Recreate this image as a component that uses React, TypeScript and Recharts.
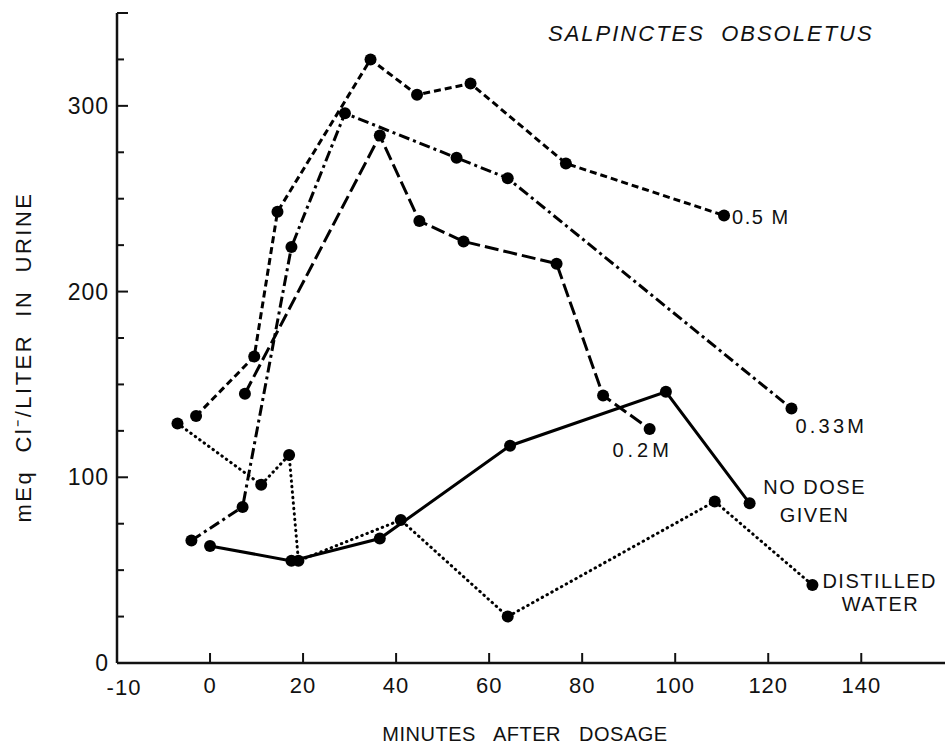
import { LineChart, Line, XAxis, YAxis } from 'recharts';

// minutes after dosage vs mEq Cl-/liter in urine
const salt05Minutes = [-3, 9.5, 14.5, 34.5, 44.5, 56, 76.5, 110.5];
const salt05Cl = [133, 165, 243, 325, 306, 312, 269, 241];

const salt033Minutes = [-4, 7, 17.5, 29, 53, 64, 125];
const salt033Cl = [66, 84, 224, 296, 272, 261, 137];

const salt02Minutes = [7.5, 36.5, 45, 54.5, 74.5, 84.5, 94.5];
const salt02Cl = [145, 284, 238, 227, 215, 144, 126];

const noDoseMinutes = [0, 17.5, 36.5, 64.5, 98, 116];
const noDoseCl = [63, 55, 67, 117, 146, 86];

const waterMinutes = [-7, 11, 17, 19, 41, 64, 108.5, 129.5];
const waterCl = [129, 96, 112, 55, 77, 25, 87, 42];

// the original figure labels its corner "-10"
const xTicks = [-20, 0, 20, 40, 60, 80, 100, 120, 140];
const xTickLabels = ['-10', '0', '20', '40', '60', '80', '100', '120', '140'];
const yTicks = [0, 25, 50, 75, 100, 125, 150, 175, 200, 225, 250, 275, 300, 325, 350];
const yLabelled = [0, 100, 200, 300];

const toPoints = (xs: number[], ys: number[]) => xs.map((x, i) => ({ x, y: ys[i] }));

const FONT = '"Liberation Sans", Arial, sans-serif';

type LabelLine = { text: string; dx: number; dy: number; anchor?: 'start' | 'middle' | 'end'; ls?: number };

const endLabel = (lines: LabelLine[], last: number) => (props: any) => {
  if (props.index !== last) return <g key={props.index} />;
  return (
    <g key={props.index}>
      {lines.map((l, i) => (
        <text
          key={i}
          x={props.x + l.dx}
          y={props.y + l.dy}
          textAnchor={l.anchor || 'start'}
          dominantBaseline="central"
          fontFamily={FONT}
          fontSize={20}
          letterSpacing={l.ls ?? 1.5}
          fill="#111"
        >
          {l.text}
        </text>
      ))}
    </g>
  );
};

const XTick = (props: any) => {
  const { x, y, index } = props;
  return (
    <g>
      {index > 0 && <line x1={x} y1={y} x2={x} y2={y - 10} stroke="#111" strokeWidth={2} />}
      <text x={x + (index === 0 ? 7 : 0)} y={y + (index === 0 ? 24 : 22)} textAnchor="middle" dominantBaseline="central"
        fontFamily={FONT} fontSize={22} letterSpacing={1} fill="#111">
        {xTickLabels[index]}
      </text>
    </g>
  );
};

const LeftTick = (props: any) => {
  const { x, y, payload } = props;
  const major = yLabelled.includes(payload.value) || payload.value === 350;
  return (
    <g>
      <line x1={x} y1={y} x2={x + (major ? 11 : 7)} y2={y} stroke="#111" strokeWidth={2} />
      {yLabelled.includes(payload.value) && (
        <text x={x - 8} y={y} textAnchor="end" dominantBaseline="central"
          fontFamily={FONT} fontSize={23} letterSpacing={1} fill="#111">
          {payload.value}
        </text>
      )}
    </g>
  );
};

const RightTick = (props: any) => {
  const { x, y, payload } = props;
  const major = yLabelled.includes(payload.value);
  return <line x1={x} y1={y} x2={x - (major ? 10 : 5)} y2={y} stroke="#111" strokeWidth={2} />;
};

const dot = { r: 6, fill: '#000', stroke: 'none' };

export default function App() {
  return (
    <div style={{ position: 'fixed', left: 0, top: 0, width: 945, height: 743, background: '#fff', overflow: 'hidden' }}>
      <LineChart width={945} height={743} margin={{ top: 13, right: 0, left: 0, bottom: 0 }}>
        <XAxis
          type="number"
          dataKey="x"
          domain={[-20, 158]}
          ticks={xTicks}
          interval={0}
          allowDataOverflow
          height={80}
          tickSize={0}
          tickMargin={0}
          tickLine={false}
          axisLine={{ stroke: '#111', strokeWidth: 2.5 }}
          tick={<XTick />}
        />
        <YAxis
          yAxisId="l"
          type="number"
          domain={[0, 350]}
          ticks={yTicks}
          interval={0}
          width={117}
          tickSize={0}
          tickMargin={0}
          tickLine={false}
          axisLine={{ stroke: '#111', strokeWidth: 2.5 }}
          tick={<LeftTick />}
        />
        <YAxis
          yAxisId="r"
          orientation="right"
          type="number"
          domain={[0, 350]}
          ticks={yTicks}
          interval={0}
          width={0}
          tickSize={0}
          tickMargin={0}
          tickLine={false}
          axisLine={false}
          tick={<RightTick />}
        />
        <Line yAxisId="l" data={toPoints(salt05Minutes, salt05Cl)} dataKey="y" type="linear"
          stroke="#000" strokeWidth={3} strokeDasharray="7 4" dot={dot} isAnimationActive={false}
          label={endLabel([{ text: '0.5 M', dx: 8, dy: 2 }], salt05Minutes.length - 1)} />
        <Line yAxisId="l" data={toPoints(salt033Minutes, salt033Cl)} dataKey="y" type="linear"
          stroke="#000" strokeWidth={3} strokeDasharray="11 4 3 4" dot={dot} isAnimationActive={false}
          label={endLabel([{ text: '0.33M', dx: 4, dy: 17, ls: 3.2 }], salt033Minutes.length - 1)} />
        <Line yAxisId="l" data={toPoints(salt02Minutes, salt02Cl)} dataKey="y" type="linear"
          stroke="#000" strokeWidth={3} strokeDasharray="14 5" dot={dot} isAnimationActive={false}
          label={endLabel([{ text: '0.2M', dx: -7, dy: 21, anchor: 'middle', ls: 4 }], salt02Minutes.length - 1)} />
        <Line yAxisId="l" data={toPoints(noDoseMinutes, noDoseCl)} dataKey="y" type="linear"
          stroke="#000" strokeWidth={3} dot={dot} isAnimationActive={false}
          label={endLabel(
            [
              { text: 'NO DOSE', dx: 65, dy: -16, anchor: 'middle' },
              { text: 'GIVEN', dx: 65, dy: 12, anchor: 'middle' },
            ],
            noDoseMinutes.length - 1,
          )} />
        <Line yAxisId="l" data={toPoints(waterMinutes, waterCl)} dataKey="y" type="linear"
          stroke="#000" strokeWidth={3} strokeDasharray="0.5 5" strokeLinecap="round" dot={dot}
          isAnimationActive={false}
          label={endLabel(
            [
              { text: 'DISTILLED', dx: 10, dy: -4 },
              { text: 'WATER', dx: 68, dy: 19, anchor: 'middle' },
            ],
            waterMinutes.length - 1,
          )} />
      </LineChart>

      <div style={{ position: 'absolute', left: 548, top: 21, fontFamily: FONT, fontStyle: 'italic',
        fontSize: 22, letterSpacing: 2, whiteSpace: 'pre', color: '#111' }}>
        {'SALPINCTES  OBSOLETUS'}
      </div>
      <div style={{ position: 'absolute', left: 22, top: 357, transform: 'translate(-50%, -50%) rotate(-90deg)',
        fontFamily: FONT, fontSize: 22, letterSpacing: 2.5, whiteSpace: 'pre', color: '#111' }}>
        {'mEq  Cl⁻/LITER  IN  URINE'}
      </div>
      <div style={{ position: 'absolute', left: 525, top: 734, transform: 'translate(-50%, -50%)',
        fontFamily: FONT, fontSize: 20, letterSpacing: 0.5, whiteSpace: 'pre', color: '#111' }}>
        {'MINUTES   AFTER   DOSAGE'}
      </div>
    </div>
  );
}
